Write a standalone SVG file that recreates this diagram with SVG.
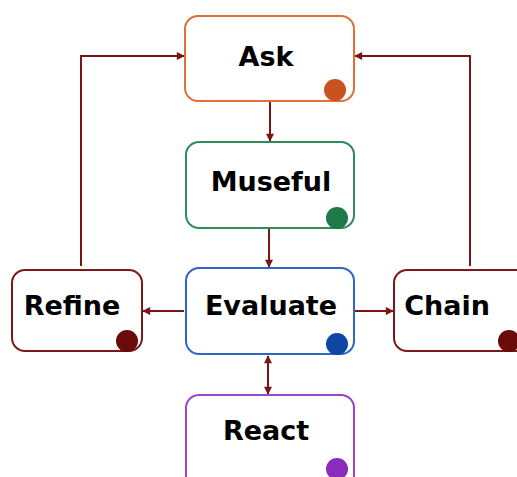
<svg xmlns="http://www.w3.org/2000/svg" width="517" height="477" viewBox="0 0 517 477">
<defs>
<style>
.box{fill:#fff;stroke-width:2}
.lbl{font-family:"DejaVu Sans",Verdana,sans-serif;font-weight:bold;font-size:27px;fill:#000;text-anchor:middle}
.con{fill:none;stroke:#7b1414;stroke-width:2}
</style>
<marker id="ah" viewBox="0 0 10 10" refX="9" refY="5" markerWidth="9" markerHeight="8" orient="auto-start-reverse" markerUnits="userSpaceOnUse">
<path d="M0,0 L10,5 L0,10 z" fill="#7b1414"/>
</marker>
</defs>
<rect width="517" height="477" fill="#fff"/>
<g id="connectors">
<line class="con" x1="270" y1="102" x2="270" y2="141" marker-end="url(#ah)"/>
<line class="con" x1="269" y1="229" x2="269" y2="267" marker-end="url(#ah)"/>
<line class="con" x1="184" y1="311" x2="143" y2="311" marker-end="url(#ah)"/>
<line class="con" x1="355" y1="311" x2="393" y2="311" marker-end="url(#ah)"/>
<line class="con" x1="268" y1="356" x2="268" y2="394" marker-start="url(#ah)" marker-end="url(#ah)"/>
<polyline class="con" points="81,266 81,56 184,56" marker-end="url(#ah)"/>
<polyline class="con" points="470,266 470,56 355,56" marker-end="url(#ah)"/>
</g>
<g id="ask">
<rect class="box" x="185" y="16" width="169" height="85" rx="13" stroke="#e0703a"/>
<circle cx="335" cy="90" r="11" fill="#c9521e"/>
<text class="lbl" x="266" y="66">Ask</text>
</g>
<g id="museful">
<rect class="box" x="186" y="142" width="168" height="86" rx="13" stroke="#2e8b5a"/>
<circle cx="337" cy="218" r="11" fill="#1d7a48"/>
<text class="lbl" x="271" y="191">Museful</text>
</g>
<g id="evaluate">
<rect class="box" x="186" y="268" width="168" height="86" rx="13" stroke="#2d66c4"/>
<circle cx="337" cy="344" r="11" fill="#0e47a3"/>
<text class="lbl" x="271" y="315">Evaluate</text>
</g>
<g id="refine">
<rect class="box" x="12" y="270" width="130" height="81" rx="13" stroke="#7b1818"/>
<circle cx="127" cy="341" r="11" fill="#6a0a0a"/>
<text class="lbl" x="72" y="315">Refine</text>
</g>
<g id="chain">
<rect class="box" x="394" y="270" width="135" height="81" rx="13" stroke="#7b1818"/>
<circle cx="509" cy="341" r="11" fill="#6a0a0a"/>
<text class="lbl" x="447" y="315">Chain</text>
</g>
<g id="react">
<rect class="box" x="186" y="395" width="168" height="95" rx="13" stroke="#9b45c9"/>
<circle cx="337" cy="469" r="11" fill="#8a2cba"/>
<text class="lbl" x="266" y="440">React</text>
</g>
</svg>
